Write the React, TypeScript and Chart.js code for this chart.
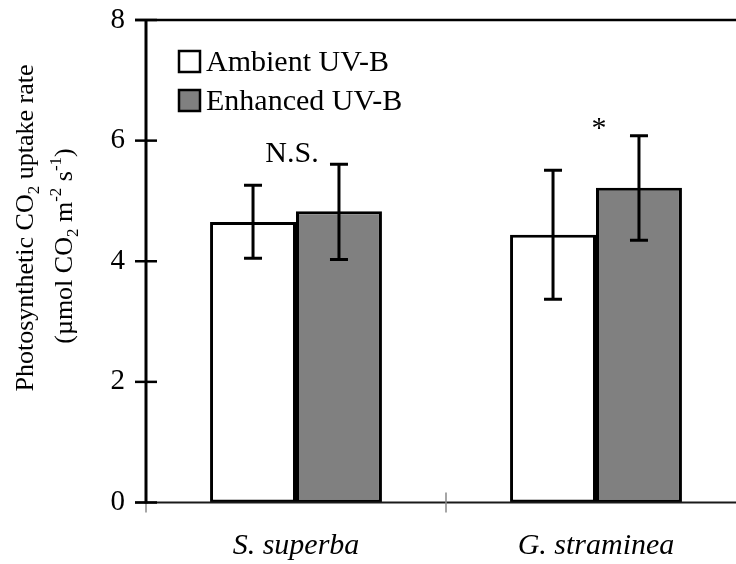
import React, { useEffect, useRef } from "react";
import { Chart, registerables } from "chart.js";

Chart.register(...registerables);

// ---- data ----
const categories = ["S. superba", "G. straminea"];
const seriesNames = ["Ambient UV-B", "Enhanced UV-B"];
const ambient = [4.65, 4.44];
const enhanced = [4.83, 5.22];
const ambientErrLow = [4.05, 3.37];
const ambientErrHigh = [5.26, 5.51];
const enhancedErrLow = [4.03, 4.35];
const enhancedErrHigh = [5.61, 6.08];
const annotationText = ["N.S.", "*"];
const annotationY = [5.65, 6.06];
const yMin = 0;
const yMax = 8;
const yStep = 2;

const SERIF = "'Liberation Serif', 'Times New Roman', serif";
const GRAY = "#808080";

const decorPlugin = {
  id: "decor",
  afterDatasetsDraw(chart: any) {
    const { ctx, scales } = chart;
    const y = scales.y;
    const errs = [
      [ambientErrLow, ambientErrHigh],
      [enhancedErrLow, enhancedErrHigh],
    ];
    ctx.save();
    ctx.strokeStyle = "#000";
    ctx.lineWidth = 3;
    chart.data.datasets.forEach((_ds: any, di: number) => {
      const meta = chart.getDatasetMeta(di);
      meta.data.forEach((bar: any, i: number) => {
        const cx = bar.x;
        const yl = y.getPixelForValue(errs[di][0][i]);
        const yh = y.getPixelForValue(errs[di][1][i]);
        ctx.beginPath();
        ctx.moveTo(cx, yl);
        ctx.lineTo(cx, yh);
        ctx.moveTo(cx - 9, yl);
        ctx.lineTo(cx + 9, yl);
        ctx.moveTo(cx - 9, yh);
        ctx.lineTo(cx + 9, yh);
        ctx.stroke();
      });
    });
    ctx.restore();
  },
  afterDraw(chart: any) {
    const { ctx, chartArea, scales } = chart;
    const x = scales.x;
    const y = scales.y;
    const left = chartArea.left;
    const right = chartArea.right;
    const top = chartArea.top;
    const bottom = chartArea.bottom;
    ctx.save();

    // x axis line
    ctx.strokeStyle = "#1a1a1a";
    ctx.lineWidth = 2;
    ctx.beginPath();
    ctx.moveTo(left - 11, bottom);
    ctx.lineTo(right, bottom);
    ctx.stroke();

    // x tick marks (category boundaries)
    ctx.strokeStyle = "#888";
    ctx.lineWidth = 1.5;
    for (let i = 0; i <= categories.length; i++) {
      const px = i === 0 ? left : i === categories.length ? right : (x.getPixelForValue(i - 1) + x.getPixelForValue(i)) / 2;
      ctx.beginPath();
      ctx.moveTo(px, bottom - 10);
      ctx.lineTo(px, bottom + 10);
      ctx.stroke();
    }

    // top frame line
    ctx.strokeStyle = "#000";
    ctx.lineWidth = 2.5;
    ctx.beginPath();
    ctx.moveTo(left - 11, top);
    ctx.lineTo(right, top);
    ctx.stroke();

    // y axis line
    ctx.lineWidth = 3;
    ctx.beginPath();
    ctx.moveTo(left, top);
    ctx.lineTo(left, bottom + 1);
    ctx.stroke();

    // y tick marks (crossing)
    ctx.lineWidth = 2.5;
    for (let v = yMin; v <= yMax; v += yStep) {
      const py = y.getPixelForValue(v);
      ctx.beginPath();
      ctx.moveTo(left - 11, py);
      ctx.lineTo(left + 11, py);
      ctx.stroke();
    }

    // annotations
    ctx.fillStyle = "#000";
    ctx.font = `30px ${SERIF}`;
    ctx.textAlign = "center";
    ctx.textBaseline = "alphabetic";
    ctx.fillText(annotationText[0], x.getPixelForValue(0) - 4, y.getPixelForValue(annotationY[0]));
    ctx.fillText(annotationText[1], x.getPixelForValue(1) + 3, y.getPixelForValue(annotationY[1]));

    // legend
    const fills = ["#ffffff", GRAY];
    const legY = [50, 89];
    ctx.textAlign = "left";
    ctx.font = `30px ${SERIF}`;
    seriesNames.forEach((name, i) => {
      ctx.fillStyle = fills[i];
      ctx.fillRect(179, legY[i] + 1, 21, 21);
      ctx.strokeStyle = "#000";
      ctx.lineWidth = 2.5;
      ctx.strokeRect(179, legY[i] + 1, 21, 21);
      ctx.fillStyle = "#000";
      ctx.fillText(name, 206, legY[i] + 21);
    });

    // y axis title (rotated, with sub/superscripts)
    const drawRich = (parts: { t: string; k: "n" | "sub" | "sup" }[], cx: number, cy: number, size: number) => {
      const small = Math.round(size * 0.65);
      let total = 0;
      parts.forEach((p) => {
        ctx.font = `${p.k === "n" ? size : small}px ${SERIF}`;
        total += ctx.measureText(p.t).width;
      });
      ctx.save();
      ctx.translate(cx, cy);
      ctx.rotate(-Math.PI / 2);
      let pos = -total / 2;
      ctx.textAlign = "left";
      ctx.textBaseline = "alphabetic";
      ctx.fillStyle = "#000";
      parts.forEach((p) => {
        ctx.font = `${p.k === "n" ? size : small}px ${SERIF}`;
        const dy = p.k === "sub" ? size * 0.22 : p.k === "sup" ? -size * 0.42 : 0;
        ctx.fillText(p.t, pos, dy);
        pos += ctx.measureText(p.t).width;
      });
      ctx.restore();
    };
    drawRich(
      [
        { t: "Photosynthetic CO", k: "n" },
        { t: "2", k: "sub" },
        { t: " uptake rate", k: "n" },
      ],
      33,
      228,
      26
    );
    drawRich(
      [
        { t: "(\u00b5mol CO", k: "n" },
        { t: "2", k: "sub" },
        { t: " m", k: "n" },
        { t: "-2", k: "sup" },
        { t: " s", k: "n" },
        { t: "-1", k: "sup" },
        { t: ")", k: "n" },
      ],
      72,
      246,
      26
    );

    ctx.restore();
  },
};

export default function App() {
  const ref = useRef<HTMLCanvasElement | null>(null);
  useEffect(() => {
    if (!ref.current) return;
    const chart = new Chart(ref.current, {
      type: "bar",
      data: {
        labels: categories,
        datasets: [
          {
            label: seriesNames[0],
            data: ambient,
            backgroundColor: "#ffffff",
            borderColor: "#000",
            borderWidth: 3,
            borderSkipped: false,
            categoryPercentage: 0.573,
            barPercentage: 1,
          },
          {
            label: seriesNames[1],
            data: enhanced,
            backgroundColor: GRAY,
            borderColor: "#000",
            borderWidth: 3,
            borderSkipped: false,
            categoryPercentage: 0.573,
            barPercentage: 1,
          },
        ],
      },
      options: {
        responsive: false,
        animation: false,
        devicePixelRatio: 1,
        layout: { padding: { top: 20, right: 24, left: 0, bottom: 0 } },
        plugins: { legend: { display: false }, tooltip: { enabled: false } },
        scales: {
          x: {
            type: "category",
            offset: true,
            grid: { display: false, drawTicks: false },
            border: { display: false },
            ticks: {
              color: "#000",
              font: { family: SERIF, size: 30, style: "italic" },
              padding: 26,
            },
            afterFit: (s: any) => {
              s.height = 61.5;
              s.paddingLeft = 0;
              s.paddingRight = 0;
            },
          },
          y: {
            min: yMin,
            max: yMax,
            grid: { display: false, drawTicks: false },
            border: { display: false },
            ticks: {
              stepSize: yStep,
              color: "#000",
              font: { family: SERIF, size: 29 },
              padding: 21,
            },
            afterFit: (s: any) => {
              s.width = 146;
              s.paddingTop = 0;
              s.paddingBottom = 0;
            },
          },
        },
      },
      plugins: [decorPlugin],
    } as any);
    return () => chart.destroy();
  }, []);
  return (
    <div
      style={{
        position: "fixed",
        left: 0,
        top: 0,
        width: 736,
        height: 564,
        overflow: "hidden",
        background: "#fff",
      }}
    >
      <canvas ref={ref} width={770} height={564} style={{ display: "block" }} />
    </div>
  );
}
